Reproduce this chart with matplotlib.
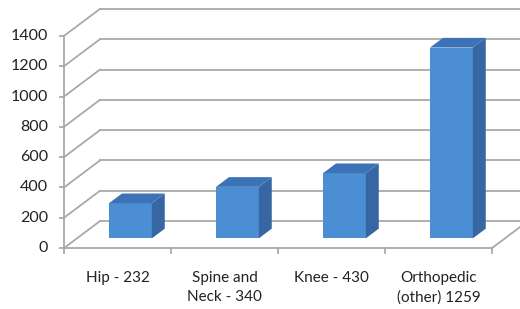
import matplotlib.pyplot as plt
from matplotlib.patches import Polygon

# data
categories = ['Hip - 232', 'Spine and\nNeck - 340', 'Knee - 430', 'Orthopedic\n(other) 1259']
counts = [232, 340, 430, 1259]
yticks = [0, 200, 400, 600, 800, 1000, 1200, 1400]

# fake 3d look (oblique depth in data units)
DX = 0.336   # depth shift, category units
DY = 178     # depth shift, value units
F0, F1 = 0.36, 0.72  # bar front / back depth fraction
W = 0.40

front = '#4b8ed3'
top = '#3b73b6'
side = '#3667a3'
grid = '#a9a9a9'

plt.rcParams['font.family'] = ['Lato', 'DejaVu Sans']
fig = plt.figure(figsize=(5.2, 3.09), dpi=100)
ax = fig.add_axes([0, 0, 1, 1])
ax.set_xlim(-0.598, 4.262)
ax.set_ylim(-402, 1637)
ax.axis('off')

n = len(categories)
xr_end = 4.262

# back wall gridlines + diagonals
for v in yticks:
    ax.plot([0, DX], [v, v + DY], color=grid, lw=1.3, zorder=1)
    ax.plot([DX, xr_end], [v + DY, v + DY], color=grid, lw=1.3, zorder=1)
    ax.plot([-0.04, 0], [v, v], color=grid, lw=1.3, zorder=1)
    ax.text(-0.15, v, str(v), ha='right', va='center', fontsize=11.5, color='#222222')

# floor
ax.plot([0, n], [0, 0], color=grid, lw=1.3, zorder=4)
ax.plot([n, n + DX], [0, DY], color=grid, lw=1.3, zorder=1)
ax.plot([0, 0], [0, 1400], color=grid, lw=1.3, zorder=4)
for i in range(n + 1):
    ax.plot([i, i], [0, -35], color=grid, lw=1.3, zorder=4)

# bars
centers = [i + 0.5 + F0 * DX for i in range(n)]
base = F0 * DY
ddx = (F1 - F0) * DX
ddy = (F1 - F0) * DY
ax.bar(centers, counts, width=W, bottom=base, color=front, zorder=3, linewidth=0)
for c, v in zip(centers, counts):
    xl, xr = c - W / 2, c + W / 2
    ax.add_patch(Polygon([(xr, base), (xr + ddx, base + ddy), (xr + ddx, base + ddy + v), (xr, base + v)],
                         closed=True, color=side, lw=0, zorder=3))
    ax.add_patch(Polygon([(xl, base + v), (xr, base + v), (xr + ddx, base + v + ddy), (xl + ddx, base + v + ddy)],
                         closed=True, color=top, lw=0, zorder=3))

# category labels
for i, lab in enumerate(categories):
    ax.text(i + 0.5, -150, lab, ha='center', va='top', fontsize=11, color='#222222', linespacing=1.45)

fig.savefig('out.png', dpi=100)
